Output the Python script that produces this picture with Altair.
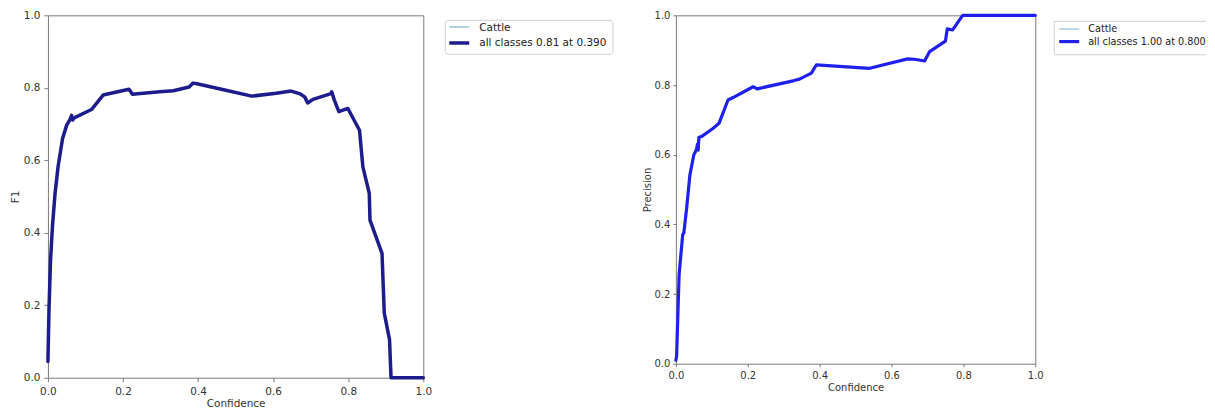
import altair as alt
import pandas as pd

# ---------------- data ----------------
f1_conf = [0.0, 0.003, 0.007, 0.012, 0.019, 0.021, 0.027, 0.039, 0.05, 0.059, 0.063, 0.066,
           0.07, 0.116, 0.147, 0.216, 0.225, 0.298, 0.334, 0.376, 0.387, 0.397, 0.471, 0.543,
           0.608, 0.648, 0.67, 0.684, 0.692, 0.706, 0.754, 0.756, 0.763, 0.775, 0.799, 0.83,
           0.839, 0.856, 0.858, 0.89, 0.896, 0.91, 0.914, 1.0]
f1_vals = [0.045, 0.196, 0.325, 0.417, 0.509, 0.527, 0.582, 0.66, 0.697, 0.713, 0.724, 0.711,
           0.717, 0.740, 0.78, 0.796, 0.782, 0.789, 0.792, 0.802, 0.813, 0.811, 0.794, 0.777,
           0.785, 0.791, 0.784, 0.775, 0.758, 0.768, 0.784, 0.789, 0.766, 0.734, 0.743, 0.683,
           0.582, 0.509, 0.435, 0.343, 0.178, 0.105, 0.0, 0.0]

prec_conf = [0.0, 0.002, 0.009, 0.019, 0.022, 0.03, 0.039, 0.05, 0.057, 0.06, 0.062, 0.064,
             0.071, 0.104, 0.12, 0.145, 0.159, 0.215, 0.226, 0.326, 0.344, 0.377, 0.391, 0.539,
             0.645, 0.664, 0.692, 0.706, 0.75, 0.755, 0.77, 0.798, 1.0]
prec_vals = [0.01, 0.022, 0.256, 0.371, 0.375, 0.447, 0.542, 0.60, 0.614, 0.63, 0.613, 0.65,
             0.652, 0.676, 0.69, 0.757, 0.764, 0.795, 0.789, 0.812, 0.817, 0.834, 0.858, 0.848,
             0.875, 0.874, 0.869, 0.896, 0.926, 0.961, 0.958, 1.0, 1.0]

left_legend_labels = ["Cattle", "all classes 0.81 at 0.390"]
right_legend_labels = ["Cattle", "all classes 1.00 at 0.800"]
tick_values = [0.0, 0.2, 0.4, 0.6, 0.8, 1.0]

FONT = "DejaVu Sans"
TXT = "#333333"
FRAME = "#7a7a7a"


def curve_df(xs, ys):
    return pd.DataFrame({"conf": xs, "val": ys, "i": list(range(len(xs)))})


def panel(df, y_title, w, h, main_color, main_w, cattle_color, ax, labels, lg, leg_font):
    xenc = alt.X("conf:Q", scale=alt.Scale(domain=[0, 1], nice=False, zero=False),
                 axis=alt.Axis(values=tick_values, format=".1f", title="Confidence",
                               grid=False, domain=False, tickColor=FRAME,
                               tickSize=ax["xtick"], labelPadding=ax["xlp"],
                               titlePadding=ax["xtp"], labelFlush=False,
                               labelFont=FONT, titleFont=FONT, labelColor=TXT, titleColor=TXT,
                               labelFontSize=ax["fs"], titleFontSize=ax["fs"],
                               titleFontWeight="normal"))
    yenc = alt.Y("val:Q", scale=alt.Scale(domain=[0, 1], nice=False, zero=False),
                 axis=alt.Axis(values=tick_values, format=".1f", title=y_title,
                               grid=False, domain=False, tickColor=FRAME,
                               tickSize=ax["ytick"], labelPadding=ax["ylp"],
                               titlePadding=ax["ytp"], labelFlush=False,
                               labelFont=FONT, titleFont=FONT, labelColor=TXT, titleColor=TXT,
                               labelFontSize=ax["fs"], titleFontSize=ax["fs"],
                               titleFontWeight="normal"))
    base = alt.Chart(df)
    cattle = base.mark_line(color=cattle_color, strokeWidth=1.2, clip=False).encode(
        x=xenc, y=yenc, order="i:Q")
    main = base.mark_line(color=main_color, strokeWidth=main_w, clip=False,
                          strokeJoin="round", strokeCap="round").encode(
        x=alt.X("conf:Q"), y=alt.Y("val:Q"), order="i:Q")

    one = alt.Chart(pd.DataFrame({"label": [labels[0]]}))
    two = alt.Chart(pd.DataFrame({"label": [labels[1]]}))

    layers = [cattle, main]
    if lg.get("closed", True):
        box = one.mark_rect(fill="white", stroke="#d0d0d0", strokeWidth=1,
                            cornerRadius=3).encode(
            x=alt.value(lg["bx0"]), x2=alt.value(lg["bx1"]),
            y=alt.value(lg["by0"]), y2=alt.value(lg["by1"]))
        layers.append(box)
    else:
        box = one.mark_rect(fill="white", strokeWidth=0).encode(
            x=alt.value(lg["bx0"]), x2=alt.value(lg["bx1"]),
            y=alt.value(lg["by0"]), y2=alt.value(lg["by1"]))
        top = one.mark_rule(color="#d0d0d0", strokeWidth=1).encode(
            x=alt.value(lg["bx0"]), x2=alt.value(lg["bx1"]), y=alt.value(lg["by0"]))
        bot = one.mark_rule(color="#d0d0d0", strokeWidth=1).encode(
            x=alt.value(lg["bx0"]), x2=alt.value(lg["bx1"]), y=alt.value(lg["by1"]))
        lef = one.mark_rule(color="#d0d0d0", strokeWidth=1).encode(
            x=alt.value(lg["bx0"]), y=alt.value(lg["by0"]), y2=alt.value(lg["by1"]))
        layers += [box, top, bot, lef]

    s1 = one.mark_rule(color=cattle_color, strokeWidth=1.3).encode(
        x=alt.value(lg["lx0"]), x2=alt.value(lg["lx1"]), y=alt.value(lg["ly1"]))
    s2 = two.mark_rule(color=main_color, strokeWidth=main_w).encode(
        x=alt.value(lg["lx0"]), x2=alt.value(lg["lx1"]), y=alt.value(lg["ly2"]))
    t1 = one.mark_text(align="left", baseline="middle", font=FONT, fontSize=leg_font,
                       color="#222222").encode(
        x=alt.value(lg["tx"]), y=alt.value(lg["ty1"]), text="label:N")
    t2 = two.mark_text(align="left", baseline="middle", font=FONT, fontSize=leg_font,
                       color="#222222").encode(
        x=alt.value(lg["tx"]), y=alt.value(lg["ty2"]), text="label:N")
    layers += [s1, s2, t1, t2]
    return alt.layer(*layers).properties(width=w, height=h)


left = panel(
    curve_df(f1_conf, f1_vals), "F1", 376, 363,
    "#1c1c8c", 3.5, "#8cb8c8",
    {"xtick": 4, "xlp": 5, "xtp": 1, "ytick": 4, "ylp": 4, "ytp": 3, "fs": 10.5},
    left_legend_labels,
    {"bx0": 398, "bx1": 566, "by0": 5, "by1": 39, "lx0": 402, "lx1": 422,
     "ly1": 11.7, "ly2": 27.7, "tx": 432, "ty1": 12.5, "ty2": 28, "closed": True},
    10.5,
)

right = panel(
    curve_df(prec_conf, prec_vals), "Precision", 360, 349,
    "#2020ee", 3.2, "#9cc4d8",
    {"xtick": 3, "xlp": 3.5, "xtp": 2, "ytick": 3, "ylp": 3, "ytp": 2, "fs": 10},
    right_legend_labels,
    {"bx0": 379, "bx1": 531, "by0": 6, "by1": 39.5, "lx0": 384, "lx1": 404,
     "ly1": 13.7, "ly2": 26.3, "tx": 413, "ty1": 14, "ty2": 26.5, "closed": False},
    9.7,
)

chart = alt.hconcat(left, right, spacing=27).properties(
    padding={"left": 1, "top": 1, "right": 0, "bottom": 0}
).configure(background="white").configure_view(stroke=FRAME, strokeWidth=1)

chart.save("out.html", embed_options={"renderer": "svg", "actions": False})
